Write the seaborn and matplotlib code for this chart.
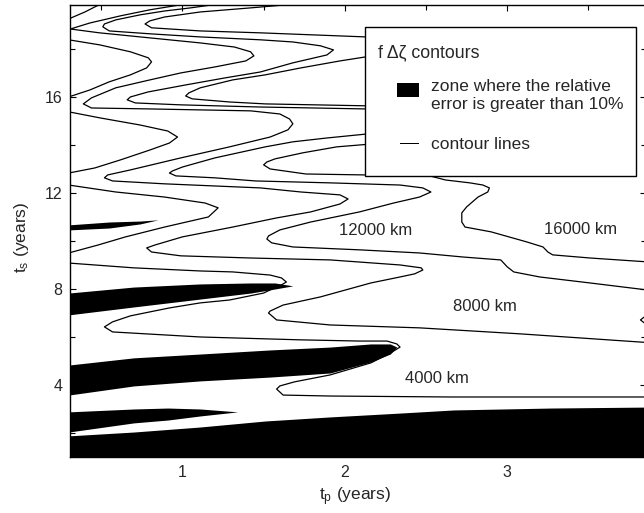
import numpy as np
import pandas as pd
import matplotlib
matplotlib.use('Agg')
import matplotlib.pyplot as plt
import seaborn as sns
from matplotlib.patches import Patch, Rectangle
from matplotlib.legend_handler import HandlerPatch

sns.set_style('ticks')
plt.rcParams['font.family'] = ['Liberation Sans', 'DejaVu Sans']
plt.rcParams['mathtext.default'] = 'regular'

# contour lines (tp in years, ts in years)
a_tp = [0.30, 0.40, 0.49]
a_ts = [19.25, 19.54, 19.85]

b_tp = [1.00, 0.80, 0.62, 0.43, 0.31, 0.49, 0.80, 1.11, 1.32, 1.42, 1.44, 1.39, 1.20, 0.99, 0.80,
        0.59, 0.44, 0.39, 0.44, 0.80, 1.42, 1.60, 1.66, 1.68, 1.65, 1.54, 1.29, 0.99, 0.68, 0.54,
        0.52, 0.57, 0.89, 1.48, 1.73, 1.97, 2.02, 1.97, 1.79, 1.58, 1.31, 1.00, 0.83, 0.78, 0.81,
        0.99, 1.42, 1.91, 2.34, 2.47, 2.48, 2.43, 2.34, 2.16, 1.85, 1.62, 1.54, 1.53, 1.58, 1.91,
        2.46, 3.08, 3.86]
b_ts = [19.85, 19.63, 19.38, 19.08, 18.83, 18.67, 18.46, 18.25, 18.08, 17.88, 17.71, 17.50, 17.25, 17.00, 16.71,
        16.38, 15.96, 15.71, 15.54, 15.50, 15.42, 15.29, 15.08, 14.88, 14.63, 14.33, 13.92, 13.46, 12.96, 12.75,
        12.63, 12.50, 12.38, 12.21, 12.04, 11.92, 11.75, 11.54, 11.21, 10.96, 10.58, 10.17, 9.83, 9.71, 9.54,
        9.38, 9.29, 9.21, 9.00, 8.88, 8.79, 8.63, 8.50, 8.25, 7.67, 7.33, 7.08, 7.00, 6.71, 6.50,
        6.38, 6.13, 5.77]

c_tp = [0.30, 0.49, 0.68, 0.79, 0.81, 0.78, 0.68, 0.55, 0.43, 0.30]
c_ts = [18.38, 18.17, 17.88, 17.63, 17.46, 17.21, 16.92, 16.63, 16.29, 16.00]

d_tp = [1.20, 1.05, 0.89, 0.74, 0.59, 0.52, 0.51, 0.55, 0.80, 1.11, 1.48, 1.68, 1.85, 1.93,
        1.89, 1.68, 1.48, 1.26, 1.02, 0.79, 0.68, 0.66, 0.71, 0.99, 1.48, 2.13, 3.57]
d_ts = [19.85, 19.71, 19.58, 19.42, 19.21, 19.04, 18.92, 18.75, 18.63, 18.50, 18.38, 18.29, 18.13, 17.96,
        17.75, 17.42, 17.04, 16.79, 16.50, 16.21, 16.00, 15.88, 15.75, 15.67, 15.58, 15.50, 15.38]

e_tp = [1.66, 1.42, 1.11, 0.89, 0.80, 0.77, 0.81, 1.11, 1.48, 2.13, 3.57]
e_ts = [19.85, 19.71, 19.54, 19.33, 19.17, 19.04, 18.88, 18.75, 18.67, 18.50, 18.38]

f_tp = [3.57, 2.13, 1.97, 1.73, 1.51, 1.31, 1.11, 1.04, 1.02, 1.06, 1.29, 1.51, 2.13, 3.57]
f_ts = [17.96, 17.67, 17.50, 17.21, 16.92, 16.71, 16.38, 16.17, 16.04, 15.92, 15.79, 15.71, 15.63, 15.54]

g_tp = [0.30, 0.49, 0.74, 0.91, 0.97, 0.92, 0.80, 0.62, 0.46, 0.30]
g_ts = [15.38, 15.13, 14.83, 14.58, 14.33, 14.08, 13.79, 13.38, 13.04, 12.83]

h_tp = [2.20, 1.95, 1.74, 1.57, 1.52, 1.50, 1.54, 1.76, 2.13, 2.50, 2.62, 2.77, 2.85, 2.89,
        2.88, 2.82, 2.75, 2.72, 2.72, 2.74, 2.90, 3.12, 3.22, 3.25, 3.28, 3.51, 3.86]
h_ts = [14.06, 13.92, 13.67, 13.42, 13.29, 13.17, 13.00, 12.79, 12.75, 12.75, 12.54, 12.42, 12.33, 12.21,
        12.04, 11.83, 11.42, 11.17, 10.79, 10.58, 10.38, 9.96, 9.75, 9.54, 9.42, 9.29, 9.13]

i_tp = [2.20, 1.89, 1.68, 1.51, 1.20, 1.00, 0.94, 0.92, 0.96, 1.20, 1.45, 1.91, 2.34, 2.48, 2.53,
        2.46, 2.30, 2.09, 1.79, 1.60, 1.53, 1.52, 1.55, 1.68, 2.09, 2.46, 2.73, 2.96, 3.00, 3.04,
        3.20, 3.51, 3.86]
i_ts = [14.50, 14.29, 14.13, 13.92, 13.46, 13.08, 12.92, 12.83, 12.71, 12.63, 12.50, 12.42, 12.33, 12.21, 12.04,
        11.83, 11.58, 11.21, 10.79, 10.46, 10.21, 10.08, 9.92, 9.75, 9.63, 9.50, 9.33, 9.21, 8.92, 8.71,
        8.50, 8.25, 7.96]

k_tp = [0.30, 0.59, 0.89, 1.14, 1.22, 1.16, 0.89, 0.65, 0.48, 0.30]
k_ts = [12.33, 12.04, 11.83, 11.58, 11.38, 11.00, 10.58, 10.17, 9.83, 9.50]

j_tp = [0.30, 0.70, 1.11, 1.31, 1.54, 1.61, 1.64, 1.61, 1.54, 1.50, 1.29, 1.11, 0.92, 0.68, 0.57,
        0.52, 0.57, 1.11, 1.73, 2.09, 2.26, 2.32, 2.34, 2.28, 2.16, 1.91, 1.69, 1.60, 1.58, 1.62,
        1.91, 2.65, 3.86]
j_ts = [9.08, 8.88, 8.75, 8.71, 8.58, 8.46, 8.29, 8.17, 7.96, 7.83, 7.54, 7.42, 7.21, 6.88, 6.63,
        6.42, 6.21, 6.00, 5.88, 5.83, 5.83, 5.71, 5.58, 5.33, 4.92, 4.42, 4.13, 3.96, 3.83, 3.58,
        3.54, 3.50, 3.50]

l_tp = [3.86, 3.82, 3.86]
l_ts = [6.92, 6.71, 6.50]

# zones where the relative error is > 10 % (upper / lower edges)
z1_tp = [0.30, 0.55, 0.74, 0.85]
z1_top = [10.67, 10.79, 10.83, 10.88]
z1_bot = [10.46, 10.54, 10.71, 10.88]

z2_tp = [0.30, 0.70, 1.11, 1.42, 1.57, 1.68]
z2_top = [7.83, 8.08, 8.21, 8.25, 8.25, 8.13]
z2_bot = [6.92, 7.25, 7.58, 7.83, 8.00, 8.13]

z3_tp = [0.30, 0.70, 1.11, 1.54, 1.91, 2.16, 2.28, 2.32]
z3_top = [4.83, 5.13, 5.29, 5.46, 5.58, 5.71, 5.71, 5.58]
z3_bot = [3.58, 3.96, 4.17, 4.33, 4.50, 4.96, 5.29, 5.58]

z4_tp = [0.30, 0.70, 0.91, 1.11, 1.34]
z4_top = [2.88, 3.00, 3.04, 3.00, 2.88]
z4_bot = [2.04, 2.42, 2.54, 2.71, 2.88]

z5_tp = [0.30, 0.70, 1.11, 1.51, 1.91, 2.34, 2.67, 3.27, 3.86]
z5_top = [1.88, 2.04, 2.25, 2.50, 2.67, 2.83, 2.96, 3.04, 3.08]

level_labels = ['4000 km', '8000 km', '12000 km', '16000 km']
label_tp = [2.57, 2.86, 2.19, 3.45]
label_ts = [4.29, 7.25, 10.42, 10.46]

lines = {'a': (a_tp, a_ts), 'b': (b_tp, b_ts), 'c': (c_tp, c_ts), 'd': (d_tp, d_ts),
         'e': (e_tp, e_ts), 'f': (f_tp, f_ts), 'g': (g_tp, g_ts), 'h': (h_tp, h_ts),
         'i': (i_tp, i_ts), 'k': (k_tp, k_ts), 'j': (j_tp, j_ts), 'l': (l_tp, l_ts)}
rows = []
for name, (xs, ys) in lines.items():
    for x, y in zip(xs, ys):
        rows.append({'line': name, 'tp': x, 'ts': y})
df = pd.DataFrame(rows)

fig = plt.figure(figsize=(6.44, 5.13), dpi=100)
ax = fig.add_axes([70 / 644, 56 / 513, 575.5 / 644, 452 / 513])

sns.lineplot(data=df, x='tp', y='ts', units='line', estimator=None, sort=False,
             color='black', linewidth=0.9, legend=False, ax=ax, zorder=2)

ymin, ymax = 1.0, 19.83
for xs, top, bot in [(z1_tp, z1_top, z1_bot), (z2_tp, z2_top, z2_bot), (z3_tp, z3_top, z3_bot),
                     (z4_tp, z4_top, z4_bot), (z5_tp, z5_top, [ymin - 0.5] * len(z5_tp))]:
    ax.fill_between(xs, bot, top, color='black', linewidth=0, zorder=3)

for txt, x, y in zip(level_labels, label_tp, label_ts):
    ax.text(x, y, txt, ha='center', va='center', fontsize=12, zorder=4)

ax.set_xlim(0.308, 3.851)
ax.set_ylim(ymin, ymax)
ax.set_xticks([1, 2, 3])
ax.set_xticks([0.5, 1.5, 2.5, 3.5], minor=True)
ax.set_yticks([4, 8, 12, 16])
ax.set_yticks([2, 6, 10, 14, 18], minor=True)
ax.tick_params(which='both', direction='in', top=True, right=True, width=0.8,
               color='black', labelsize=11.5, pad=5.5)
ax.tick_params(which='major', length=4.5)
ax.tick_params(which='minor', length=3.8)
for s in ax.spines.values():
    s.set_color('black')
    s.set_linewidth(1.0)

ax.set_xlabel('$t_p$ (years)', fontsize=12.5)
ax.set_ylabel('$t_s$ (years)', fontsize=12.5)
ax.xaxis.set_label_coords(0.496, -0.062)
ax.yaxis.set_label_coords(-0.068, 0.487)


def square_handle(legend, orig_handle, xdescent, ydescent, width, height, fontsize):
    w = 1.27 * fontsize
    return Rectangle((width - xdescent - w, 0.25 * fontsize), w, 0.82 * fontsize)


def line_handle(legend, orig_handle, xdescent, ydescent, width, height, fontsize):
    w = 1.05 * fontsize
    return Rectangle((width - xdescent - w, 0.33 * fontsize), w, 0.065 * fontsize)


zone = Patch(facecolor='black', edgecolor='none')
cline = Patch(facecolor='black', edgecolor='none')
leg = ax.legend([zone, cline],
                ['zone where the relative\nerror is greater than 10%', 'contour lines'],
                title='f \u0394\u03b6 contours', title_fontsize=12.8, fontsize=12.5,
                loc='upper left', bbox_to_anchor=(0.5052, 0.951), borderaxespad=0,
                alignment='left', handlelength=2.36, handletextpad=0.69, handleheight=2.2,
                borderpad=0.98, labelspacing=1.0, fancybox=False, framealpha=1,
                edgecolor='black',
                handler_map={zone: HandlerPatch(patch_func=square_handle),
                             cline: HandlerPatch(patch_func=line_handle)})
frame = leg.get_frame()
frame.set_linewidth(1.0)
# narrower side margins than top/bottom margins, as in the original box
frame.set_boxstyle('square', pad=-0.259)
frame.set_mutation_aspect(1e-3)
leg.set_zorder(6)
leg.get_texts()[0].set_linespacing(1.3)

fig.savefig('out.png', dpi=100)
